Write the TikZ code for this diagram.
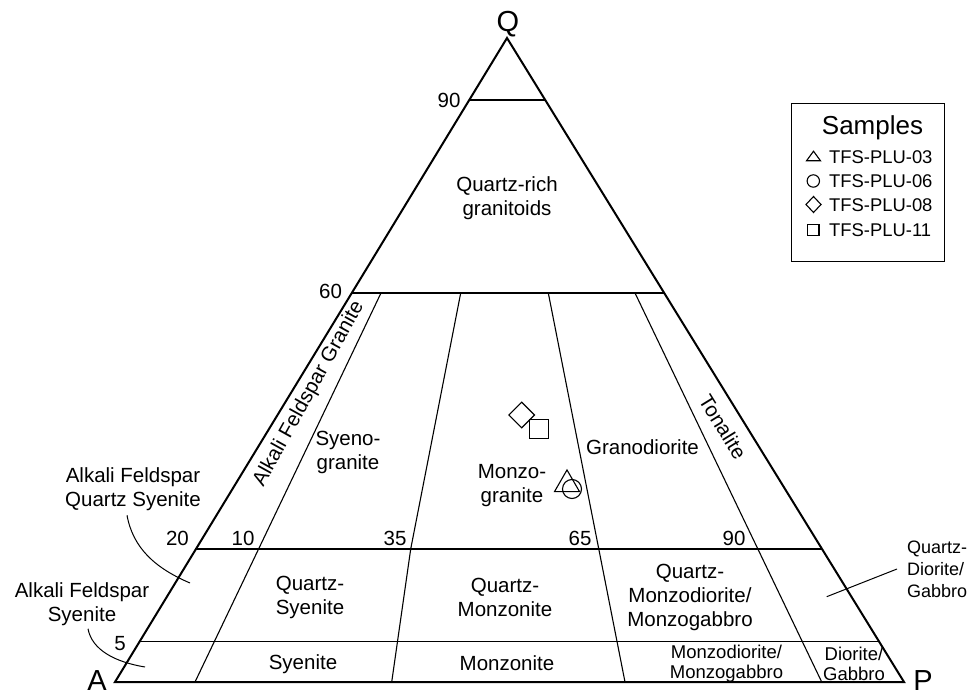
\documentclass[tikz,border=0pt]{standalone}
\usepackage{fontspec}
\setmainfont{Liberation Sans}
\usetikzlibrary{shapes.geometric}
\begin{document}
\begin{tikzpicture}[x=1pt,y=-1pt,
  tri/.style={line width=2pt, line join=miter},
  div/.style={line width=1.1pt},
  cl/.style={line width=1pt},
  lbl/.style={font=\fontsize{20.5}{24}\selectfont, align=center, inner sep=0pt},
  sml/.style={font=\fontsize{18.5}{20}\selectfont, align=center, inner sep=0pt},
  rsml/.style={font=\fontsize{18}{22}\selectfont, align=left, anchor=west, inner sep=0pt},
  num/.style={font=\fontsize{20.5}{24}\selectfont, inner sep=0pt, anchor=base},
  apexlbl/.style={font=\fontsize{29}{34}\selectfont, inner sep=0pt, anchor=base},
  mk/.style={draw, line width=1.1pt, inner sep=0pt},
  mkline/.style={line width=1.1pt, line join=miter},
  lg/.style={font=\fontsize{18.4}{22}\selectfont, anchor=west, inner sep=0pt}
]
\useasboundingbox (0,0) rectangle (979,692);

% corners
\coordinate (A) at (115,682);
\coordinate (Q) at (507,38);
\coordinate (P) at (904,682);

% horizontal division lines
\draw[div] (469.3,100) -- (545.2,100);
\draw[div] (351.8,293) -- (664.2,293);
\draw[div] (196,549) -- (822,549);
\draw[div] (139.5,641.7) -- (879.2,641.7);

% radial division lines
\draw[div] (195,682) -- (381,293);
\draw[div] (391.7,682) -- (410.7,549) -- (460.7,293);
\draw[div] (625,682) -- (548.3,293);
\draw[div] (821.7,682) -- (635,293);

% outer triangle
\draw[tri] (A) -- (Q) -- (P) -- cycle;

% apex labels
\node[apexlbl] (lQ) at (508,31.5) {Q};
\node[apexlbl] (lA) at (97,690) {A};
\node[apexlbl] (lP) at (923,690) {P};

% numbers
\node[num] (n90) at (449,107.3) {90};
\node[num] (n60) at (330.5,298.8) {60};
\node[num] (n20) at (177.5,545.3) {20};
\node[num] (n10) at (243,545.3) {10};
\node[num] (n35) at (395,545.3) {35};
\node[num] (n65) at (580,545.3) {65};
\node[num] (n90b) at (734,545.3) {90};
\node[num] (n5) at (120,650.5) {5};

% field labels
\node[lbl] (qrg) at (507,198) {Quartz-rich\\granitoids};
\node[lbl] (syg) at (348,452) {Syeno-\\granite};
\node[lbl] (mzg) at (512,486) {Monzo-\\granite};
\node[lbl] (grd) at (642.5,447) {Granodiorite};
\node[lbl, rotate=-58.3] (ton) at (723,427) {Tonalite};
\node[lbl, rotate=61] (afg) at (309,394) {Alkali Feldspar Granite};
\node[lbl] (qsy) at (310,597) {Quartz-\\Syenite};
\node[lbl] (qmz) at (505,597) {Quartz-\\Monzonite};
\node[lbl] (qmd) at (690,597) {Quartz-\\Monzodiorite/\\Monzogabbro};
\node[lbl] (sye) at (303,664.5) {Syenite};
\node[lbl] (mzn) at (507,663) {Monzonite};
\node[sml] (mzd) at (726.5,664) {Monzodiorite/\\Monzogabbro};
\node[sml] (dio) at (854,664) {Diorite/\\Gabbro};

% callout labels
\node[lbl] (afqs) at (133,489.5) {Alkali Feldspar\\Quartz Syenite};
\node[lbl] (afs) at (82,604) {Alkali Feldspar\\Syenite};
\node[rsml] (qdg) at (907,569) {Quartz-\\Diorite/\\Gabbro};

\coordinate (c1) at (190,583);
\coordinate (c2) at (145,667);
\coordinate (c3) at (826.7,596.7);
\draw[cl] ([shift={(-6,4)}]afqs.south) .. controls (133,548) and (155,568) .. (c1);
\draw[cl] ([shift={(6,3)}]afs.south) .. controls (92,650) and (115,662) .. (c2);
\draw[cl] ([shift={(-10,0)}]qdg.west) -- (c3);

% sample markers
\node[mk, diamond, aspect=1, minimum width=26pt, minimum height=26pt] (m08) at (521.7,415) {};
\node[mk, rectangle, minimum width=19pt, minimum height=19pt] (m11) at (539,429.3) {};
\node[mk, regular polygon, regular polygon sides=3, minimum size=28.9pt] (m03) at (567,484.4) {};
\node[mk, circle, minimum size=19pt] (m06) at (572,489) {};

% legend
\draw[line width=1.3pt] (791.7,103.3) rectangle (944.3,261.7);
\node[font=\fontsize{26}{30}\selectfont, anchor=base, inner sep=0pt] (samp) at (872.5,135) {Samples};
\node[lg] (t1) at (829,157) {TFS-PLU-03};
\node[lg] (t2) at (829,181) {TFS-PLU-06};
\node[lg] (t3) at (829,205) {TFS-PLU-08};
\node[lg] (t4) at (829,230) {TFS-PLU-11};
\draw[mkline, shift={(813.5,156)}] (-7,4.8) -- (0,-4.8) -- (7,4.8) -- cycle;
\draw[mkline] (813.3,181) circle (6.2);
\draw[mkline, shift={(813.5,204.5)}] (-7.5,0) -- (0,-8) -- (7.5,0) -- (0,8) -- cycle;
\draw[mkline] (807.6,224.2) rectangle (819,235.6);
\end{tikzpicture}
\end{document}
